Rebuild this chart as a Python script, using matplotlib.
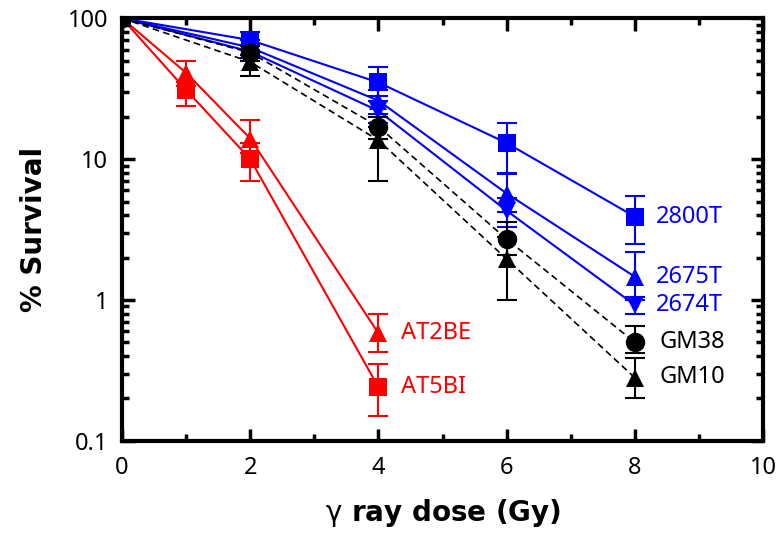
import matplotlib
matplotlib.use("Agg")
import matplotlib.pyplot as plt
import numpy as np
from matplotlib.ticker import FixedLocator, NullFormatter

plt.rcParams['font.family'] = ['Noto Sans', 'DejaVu Sans']
plt.rcParams['mathtext.fontset'] = 'dejavusans'

dose_at = [0, 1, 2, 4]
dose_t = [0, 2, 4, 6, 8]

at5bi = [100, 31, 10, 0.24]
at5bi_lo = [100, 24, 7, 0.15]
at5bi_hi = [100, 35, 13, 0.35]

at2be = [100, 41, 14, 0.58]
at2be_lo = [100, 33, 11, 0.43]
at2be_hi = [100, 50, 19, 0.8]

t2800 = [100, 70, 35, 13, 3.9]
t2800_lo = [100, 60, 28, 8, 2.5]
t2800_hi = [100, 80, 45, 18, 5.5]

t2675 = [100, 62, 26, 5.7, 1.46]
t2675_lo = [100, 55, 21, 4.2, 1.0]
t2675_hi = [100, 70, 31, 7.8, 2.2]

t2674 = [100, 58, 22, 4.3, 0.92]
t2674_lo = [100, 52, 18, 3.3, 0.8]
t2674_hi = [100, 65, 26, 5.3, 1.05]

gm38 = [100, 57, 17, 2.7, 0.5]
gm38_lo = [100, 50, 14, 2.1, 0.42]
gm38_hi = [100, 64, 20, 3.6, 0.65]

gm10 = [100, 49, 13.6, 1.95, 0.28]
gm10_lo = [100, 39, 7, 1.0, 0.2]
gm10_hi = [100, 55, 17, 2.8, 0.39]

labels = ["AT5BI", "AT2BE", "2800T", "2675T", "2674T", "GM38", "GM10"]

fig = plt.figure(figsize=(7.82, 5.37), dpi=100)
ax = fig.add_axes([0.156, 0.179, 0.82, 0.787])

def series(x, y, lo, hi, color, marker, ls, lw, z):
    y = np.array(y); lo = np.array(lo); hi = np.array(hi)
    ax.errorbar(x, y, yerr=[y - lo, hi - y], fmt='none', ecolor=color,
                elinewidth=1.5, capsize=7, capthick=1.5, zorder=z)
    ax.plot(x, y, color=color, marker=marker,
            markersize=12.5 if marker != 'o' else 14, linestyle=ls, linewidth=lw,
            zorder=z + 0.5, markeredgewidth=0)

series(dose_at, at5bi, at5bi_lo, at5bi_hi, '#ff0000', 's', '-', 1.5, 3)
series(dose_at, at2be, at2be_lo, at2be_hi, '#ff0000', '^', '-', 1.5, 3)
series(dose_t, t2800, t2800_lo, t2800_hi, '#0000ff', 's', '-', 1.5, 3)
series(dose_t, t2675, t2675_lo, t2675_hi, '#0000ff', '^', '-', 1.5, 3)
series(dose_t, t2674, t2674_lo, t2674_hi, '#0000ff', 'v', '-', 1.5, 3)
series(dose_t, gm10, gm10_lo, gm10_hi, '#000000', '^', (0, (4, 2.5)), 1.2, 4)
series(dose_t, gm38, gm38_lo, gm38_hi, '#000000', 'o', (0, (4, 2.5)), 1.2, 5)

ax.set_yscale('log')
ax.set_xlim(0, 10)
ax.set_ylim(0.1, 100)

fs = 17
ax.text(8.33, 3.9, labels[2], color='#0000ff', fontsize=fs, va='center')
ax.text(8.33, 1.46, labels[3], color='#0000ff', fontsize=fs, va='center')
ax.text(8.33, 0.92, labels[4], color='#0000ff', fontsize=fs, va='center')
ax.text(8.38, 0.5, labels[5], color='black', fontsize=fs, va='center')
ax.text(8.38, 0.285, labels[6], color='black', fontsize=fs, va='center')
ax.text(4.35, 0.58, labels[1], color='#ff0000', fontsize=fs, va='center')
ax.text(4.35, 0.24, labels[0], color='#ff0000', fontsize=fs, va='center')

ax.set_xticks([0, 2, 4, 6, 8, 10])
ax.set_xticklabels(['0', '2', '4', '6', '8', '10'])
ax.xaxis.set_minor_locator(FixedLocator([1, 3, 5, 7, 9]))
ax.set_yticks([0.1, 1, 10, 100])
ax.set_yticklabels(['0.1', '1', '10', '100'])
minors = [m * 10.0**e for e in (-1, 0, 1) for m in range(2, 10)]
ax.yaxis.set_minor_locator(FixedLocator(minors))
ax.yaxis.set_minor_formatter(NullFormatter())

ax.tick_params(which='both', direction='in', top=True, right=True, width=2.5, labelsize=17)
ax.tick_params(axis='x', which='both', pad=11)
ax.tick_params(axis='y', which='both', pad=10)
ax.tick_params(which='major', length=9)
ax.tick_params(which='minor', length=5)

for s in ax.spines.values():
    s.set_linewidth(3)

ax.set_xlabel(r'$\mathrm{\gamma}$ ray dose (Gy)', fontsize=20, fontweight='bold',
              family=['DejaVu Sans'], labelpad=12)
ax.set_ylabel('% Survival', fontsize=20, fontweight='bold', family=['DejaVu Sans'], labelpad=14)

fig.savefig('out.png', dpi=100)
